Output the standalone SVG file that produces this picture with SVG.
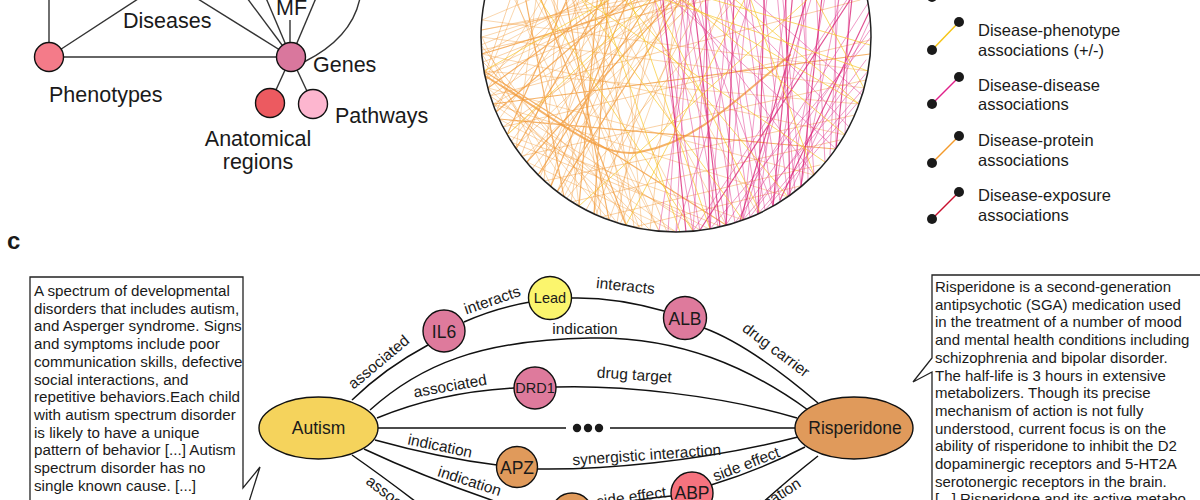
<svg xmlns="http://www.w3.org/2000/svg" width="1200" height="500" viewBox="0 0 1200 500">
<style>
.t{font-family:"Liberation Sans",Arial,Helvetica,sans-serif;fill:#1a1a1a}
.big{font-size:21.5px}
.leg{font-size:16.5px}
.box{font-size:15.2px}
.el{font-size:15.5px}
.nl{font-size:17.5px;text-anchor:middle}
.ns{font-size:14.5px;text-anchor:middle}
.edge{fill:none;stroke:#111;stroke-width:1.5}
.node{stroke:#111;stroke-width:1.4}
.or{fill:none;stroke:#f29a38}
.pk{fill:none;stroke:#e2368f}
.pk2{fill:none;stroke:#d81b72}
.ye{fill:none;stroke:#f7c31c}
.dot{fill:#1a1a1a}
</style>
<defs>
<clipPath id="cc"><circle cx="676" cy="37" r="195"/></clipPath>
</defs>
<rect width="1200" height="500" fill="#fff"/>

<!-- Panel a: schema -->
<g id="schema-connectors" fill="none" stroke="#333" stroke-width="1.4">
<path d="M49,-5 L49,43"/>
<path d="M49,57 L141,-3"/>
<path d="M49,57 L291,57"/>
<path d="M198,-1 L291,57"/>
<path d="M247,-2 L291,57"/>
<path d="M266,-2 L291,57"/>
<path d="M290,20 L290,57"/>
<path d="M316,-2 L291,57"/>
<path d="M360,-2 Q352,38 304,62"/>
<path d="M291,57 L270,103"/>
<path d="M291,57 L313,104"/>
</g>
<g id="phenotypes"><circle class="node" cx="49" cy="57" r="14.5" fill="#f47b89"/><text class="t big" x="49" y="102">Phenotypes</text></g>
<g id="genes"><circle class="node" cx="291" cy="57" r="14.5" fill="#d9779d"/><text class="t big" x="313" y="72">Genes</text></g>
<g id="anatomical"><circle class="node" cx="270" cy="103" r="14.5" fill="#ec5a60"/><text class="t big" x="258" y="146" text-anchor="middle">Anatomical</text><text class="t big" x="258" y="169" text-anchor="middle">regions</text></g>
<g id="pathways"><circle class="node" cx="313" cy="104" r="14.5" fill="#fdb6cf"/><text class="t big" x="335" y="123">Pathways</text></g>
<g id="diseases-label"><text class="t big" x="123" y="28">Diseases</text></g>
<g id="mf-label"><text class="t big" x="276" y="15">MF</text></g>

<!-- Panel b: circular network -->
<g id="chords" clip-path="url(#cc)" stroke-linecap="round">
<path class="or" stroke-width="1" stroke-opacity="0.4" d="M484,71 L700,-30 M488,88 L560,-30 M493,104 L740,-30 M499,119 L610,-30 M507,135 L690,-30 M516,149 L540,-30 M527,162 L650,-30 M538,175 L720,-30 M551,186 L600,-30 M564,197 L680,-30 M579,206 L550,-30 M594,214 L640,-30 M609,220 L700,-30 M626,225 L580,-30 M642,229 L620,-30 M659,231 L540,-30 M482,54 L640,-30 M482,37 L700,-30 M482,20 L600,-30 M484,71 L609,220 M482,54 L579,206 M488,88 L642,229 M493,104 L676,232 M482,37 L551,186 M499,119 L709,229 M520,-30 L659,231 M560,-30 L693,231 M590,-30 L726,225 M500,-30 L626,225 M620,-30 L758,214 M484,71 L859,104 M482,54 L845,135 M488,88 L814,175 M493,104 L788,197 M507,135 L743,220 M482,20 L868,71 M481,37 L864,88 M527,162 L676,232 M482,30 L770,-30 M486,80 L530,-30 M540,-30 L640,230 M505,-30 L600,220 M670,-30 L560,195 M730,-30 L520,160"/>
<path class="or" stroke-width="1" stroke-opacity="0.45" d="M481,45 L660,-30 M483,62 L720,-30 M486,80 L610,-30 M490,96 L680,-30 M496,112 L560,-30 M503,127 L730,-30 M511,142 L640,-30 M521,156 L590,-30 M532,169 L690,-30 M544,181 L560,-30 M557,192 L650,-30 M571,202 L610,-30 M586,210 L720,-30 M601,217 L570,-30 M617,223 L660,-30 M634,227 L600,-30 M650,230 L680,-30 M667,232 L560,-30 M481,30 L820,-30 M482,50 L800,-20 M485,75 L760,-30 M490,96 L860,0 M503,127 L870,40 M521,156 L866,80 M544,181 L855,115 M571,202 L840,140 M601,217 L820,165 M634,227 L800,186 M481,45 L617,223 M483,62 L650,230 M490,96 L700,230 M511,142 L720,226 M485,75 L520,-30 M494,108 L590,-30 M515,147 L700,-30 M540,177 L630,-30 M566,199 L760,-30 M596,215 L680,-30 M620,224 L740,-30"/>
<path class="or" stroke-width="1.2" stroke-opacity="0.75" d="M488,88 L650,-30 M507,135 L580,-30 M527,162 L700,-30 M551,186 L640,-30 M579,206 L600,-30 M609,220 L560,-30 M482,54 L760,-30 M516,149 L620,-30 M499,119 L835,149 M484,71 L726,225 M626,225 L530,-30 M564,197 L520,-30 M493,104 L870,54 M538,175 L670,-30 M496,112 L660,-30 M557,192 L700,-30 M594,214 L610,-30"/>
<path class="or" stroke-width="2" stroke-opacity="0.75" d="M485,76 C560,120 600,160 640,152 C690,143 720,115 790,55"/>
<path class="pk" stroke-width="1" stroke-opacity="0.5" d="M650,-30 L693,231 M665,-30 L710,229 M680,-30 L726,225 M700,-30 L743,220 M720,-30 L758,214 M740,-30 L773,206 M760,-30 L788,197 M780,-30 L801,186 M800,-30 L814,175 M815,-30 L825,162 M835,-30 L836,149 M850,-30 L845,135 M690,-30 L676,232 M710,-30 L693,231 M730,-30 L710,229 M750,-30 L726,225 M770,-30 L743,220 M790,-30 L758,214 M810,-30 L773,206 M830,-30 L788,197 M845,-30 L801,186 M860,-20 L693,231 M870,0 L726,225 M871,37 L710,229 M868,71 L743,220 M660,-30 L814,175 M640,-30 L836,149 M700,-30 L659,231 M760,-30 L676,232 M820,-30 L743,220 M870,20 L788,197 M864,88 L758,214 M680,-30 L773,206 M655,-30 L700,231 M675,-30 L718,227 M695,-30 L735,223 M715,-30 L750,217 M745,-30 L780,201 M775,-30 L795,191 M805,-30 L808,180 M840,-30 L830,155 M725,-30 L765,210 M685,-30 L668,232 M870,30 L735,223 M866,60 L750,217 M860,100 L765,210 M700,-30 L850,128 M720,-30 L862,95"/>
<path class="pk2" stroke-width="1.2" stroke-opacity="0.75" d="M705,-30 L710,229 M765,-30 L758,214 M825,-30 L801,186 M855,-30 L836,149 M660,-30 L686,232 M870,10 L780,200 M735,-30 L726,225 M795,-30 L773,206 M850,0 L700,230 M785,-30 L790,196 M815,-30 L740,221 M690,-30 L720,227"/>
<path class="ye" stroke-width="1" stroke-opacity="0.65" d="M560,-30 L743,220 M600,-30 L788,197 M630,-30 L859,104 M520,-30 L693,231 M580,-30 L868,71 M700,-30 L859,104 M484,71 L660,-30 M507,135 L680,-30 M620,-30 L710,229 M760,-30 L626,225 M840,-30 L579,206 M650,-30 L845,135 M800,-30 L864,88 M740,-30 L814,175 M540,-30 L825,162 M590,-30 L680,232 M640,-30 L760,212 M610,-30 L870,45"/>
</g>
<circle id="network-circle" cx="676" cy="37" r="195" fill="none" stroke="#222" stroke-width="1.5"/>

<!-- Legend -->
<g id="legend">
<circle class="dot" cx="932" cy="-3" r="5"/>
<g id="leg-phenotype"><line x1="932" y1="50" x2="959" y2="22" stroke="#f5c518" stroke-width="1.5"/><circle class="dot" cx="959" cy="22" r="5"/><circle class="dot" cx="932" cy="50" r="5"/><text class="t leg" x="978" y="36">Disease-phenotype</text><text class="t leg" x="978" y="56">associations (+/-)</text></g>
<g id="leg-disease"><line x1="932" y1="104" x2="959" y2="77" stroke="#e0218a" stroke-width="1.5"/><circle class="dot" cx="959" cy="77" r="5"/><circle class="dot" cx="932" cy="104" r="5"/><text class="t leg" x="978" y="91">Disease-disease</text><text class="t leg" x="978" y="110">associations</text></g>
<g id="leg-protein"><line x1="932" y1="163" x2="959" y2="136" stroke="#f39a2b" stroke-width="1.5"/><circle class="dot" cx="959" cy="136" r="5"/><circle class="dot" cx="932" cy="163" r="5"/><text class="t leg" x="978" y="146">Disease-protein</text><text class="t leg" x="978" y="166">associations</text></g>
<g id="leg-exposure"><line x1="932" y1="219" x2="959" y2="192" stroke="#c8102e" stroke-width="1.5"/><circle class="dot" cx="959" cy="192" r="5"/><circle class="dot" cx="932" cy="219" r="5"/><text class="t leg" x="978" y="201">Disease-exposure</text><text class="t leg" x="978" y="221">associations</text></g>
</g>

<!-- Panel c -->
<text class="t" x="7" y="249" font-size="24" font-weight="bold">c</text>

<g id="autism-box">
<path d="M30,505 L30,277 L243,277 L243,488 L260,467 L248,505" fill="none" stroke="#222" stroke-width="1.3"/>
<text class="t box">
<tspan x="34" y="296">A spectrum of developmental</tspan>
<tspan x="34" y="313.7">disorders that includes autism,</tspan>
<tspan x="34" y="331.4">and Asperger syndrome. Signs</tspan>
<tspan x="34" y="349.1">and symptoms include poor</tspan>
<tspan x="34" y="366.8">communication skills, defective</tspan>
<tspan x="34" y="384.5">social interactions, and</tspan>
<tspan x="34" y="402.2">repetitive behaviors.Each child</tspan>
<tspan x="34" y="419.9">with autism spectrum disorder</tspan>
<tspan x="34" y="437.6">is likely to have a unique</tspan>
<tspan x="34" y="455.3">pattern of behavior [...] Autism</tspan>
<tspan x="34" y="473">spectrum disorder has no</tspan>
<tspan x="34" y="490.7">single known cause. [...]</tspan>
</text>
</g>

<g id="risperidone-box">
<path d="M1202,275 L932,275 L932,358 L913,382 L932,372 L932,505" fill="none" stroke="#222" stroke-width="1.3"/>
<text class="t box" style="font-size:15px">
<tspan x="935" y="292">Risperidone is a second-generation</tspan>
<tspan x="935" y="309.7">antipsychotic (SGA) medication used</tspan>
<tspan x="935" y="327.4">in the treatment of a number of mood</tspan>
<tspan x="935" y="345.1">and mental health conditions including</tspan>
<tspan x="935" y="362.8">schizophrenia and bipolar disorder.</tspan>
<tspan x="935" y="380.5">The half-life is 3 hours in extensive</tspan>
<tspan x="935" y="398.2">metabolizers. Though its precise</tspan>
<tspan x="935" y="415.9">mechanism of action is not fully</tspan>
<tspan x="935" y="433.6">understood, current focus is on the</tspan>
<tspan x="935" y="451.3">ability of risperidone to inhibit the D2</tspan>
<tspan x="935" y="469">dopaminergic receptors and 5-HT2A</tspan>
<tspan x="935" y="486.7">serotonergic receptors in the brain.</tspan>
<tspan x="935" y="504.4">[...] Risperidone and its active metabo</tspan>
</text>
</g>

<g id="connectors">
<path class="edge" d="M352,400 Q385,368 428,345"/>
<path class="edge" d="M464,322 Q495,308 530,302"/>
<path class="edge" d="M572,298 Q615,297 664,311"/>
<path class="edge" d="M704,328 Q750,345 818,403"/>
<path class="edge" d="M370,410 C420,365 480,340 590,338 C680,336 750,368 808,410"/>
<path class="edge" d="M377,418 Q440,392 514,388"/>
<path class="edge" d="M556,387 C620,385 720,395 797,418"/>
<path class="edge" d="M378,428 L566,428 M610,428 L795,428"/>
<path class="edge" d="M375,440 Q440,458 497,465"/>
<path class="edge" d="M537,469 C600,470 700,462 798,437"/>
<path class="edge" d="M364,449 Q430,480 515,508"/>
<path class="edge" d="M352,455 Q385,478 420,505"/>
<path class="edge" d="M590,508 Q630,500 671,496"/>
<path class="edge" d="M711,485 Q760,470 805,447"/>
<path class="edge" d="M818,456 Q790,478 760,505"/>
<g class="t el">
<text transform="translate(382,366) rotate(-40)" text-anchor="middle">associated</text>
<text transform="translate(494,305) rotate(-19)" text-anchor="middle">interacts</text>
<text transform="translate(625,291) rotate(6)" text-anchor="middle">interacts</text>
<text transform="translate(773,354) rotate(37)" text-anchor="middle">drug carrier</text>
<text transform="translate(585,334)" text-anchor="middle">indication</text>
<text transform="translate(451,391) rotate(-10)" text-anchor="middle">associated</text>
<text transform="translate(634,380) rotate(4)" text-anchor="middle">drug target</text>
<text transform="translate(439,451) rotate(12)" text-anchor="middle">indication</text>
<text transform="translate(647,460) rotate(-4)" text-anchor="middle">synergistic interaction</text>
<text transform="translate(468,486) rotate(18)" text-anchor="middle">indication</text>
<text transform="translate(365,483) rotate(38)">associated</text>
<text transform="translate(632,502) rotate(-8)" text-anchor="middle">side effect</text>
<text transform="translate(748,469) rotate(-21)" text-anchor="middle">side effect</text>
<text transform="translate(802,486) rotate(-33)" text-anchor="end">indication</text>
</g>
<g class="dot"><circle cx="577" cy="428" r="4.2"/><circle cx="588" cy="428" r="4.2"/><circle cx="599" cy="428" r="4.2"/></g>
</g>

<g id="autism"><ellipse class="node" cx="318.5" cy="428" rx="59.5" ry="31" fill="#f5d35c"/><text class="t nl" x="318.5" y="434">Autism</text></g>
<g id="risperidone"><ellipse class="node" cx="854" cy="428" rx="59" ry="31" fill="#e09a5b"/><text class="t nl" x="855" y="434">Risperidone</text></g>
<g id="il6"><circle class="node" cx="444" cy="331" r="21" fill="#de7a9c"/><text class="t nl" x="444" y="337.5">IL6</text></g>
<g id="lead"><circle class="node" cx="550" cy="298" r="21.5" fill="#fbf56d"/><text class="t ns" x="550" y="303">Lead</text></g>
<g id="alb"><circle class="node" cx="685" cy="318" r="21.5" fill="#de7a9c"/><text class="t nl" x="685" y="324.5">ALB</text></g>
<g id="drd1"><circle class="node" cx="535" cy="388" r="21" fill="#de7a9c"/><text class="t ns" x="535" y="393">DRD1</text></g>
<g id="apz"><circle class="node" cx="517" cy="467" r="20.5" fill="#e09a5b"/><text class="t nl" x="517" y="473.5">APZ</text></g>
<g id="abp"><circle class="node" cx="692" cy="493" r="21" fill="#f6737f"/><text class="t nl" x="692" y="499">ABP</text></g>
<g id="bottom-node"><circle class="node" cx="572" cy="514" r="21" fill="#e09a5b"/></g>
</svg>
